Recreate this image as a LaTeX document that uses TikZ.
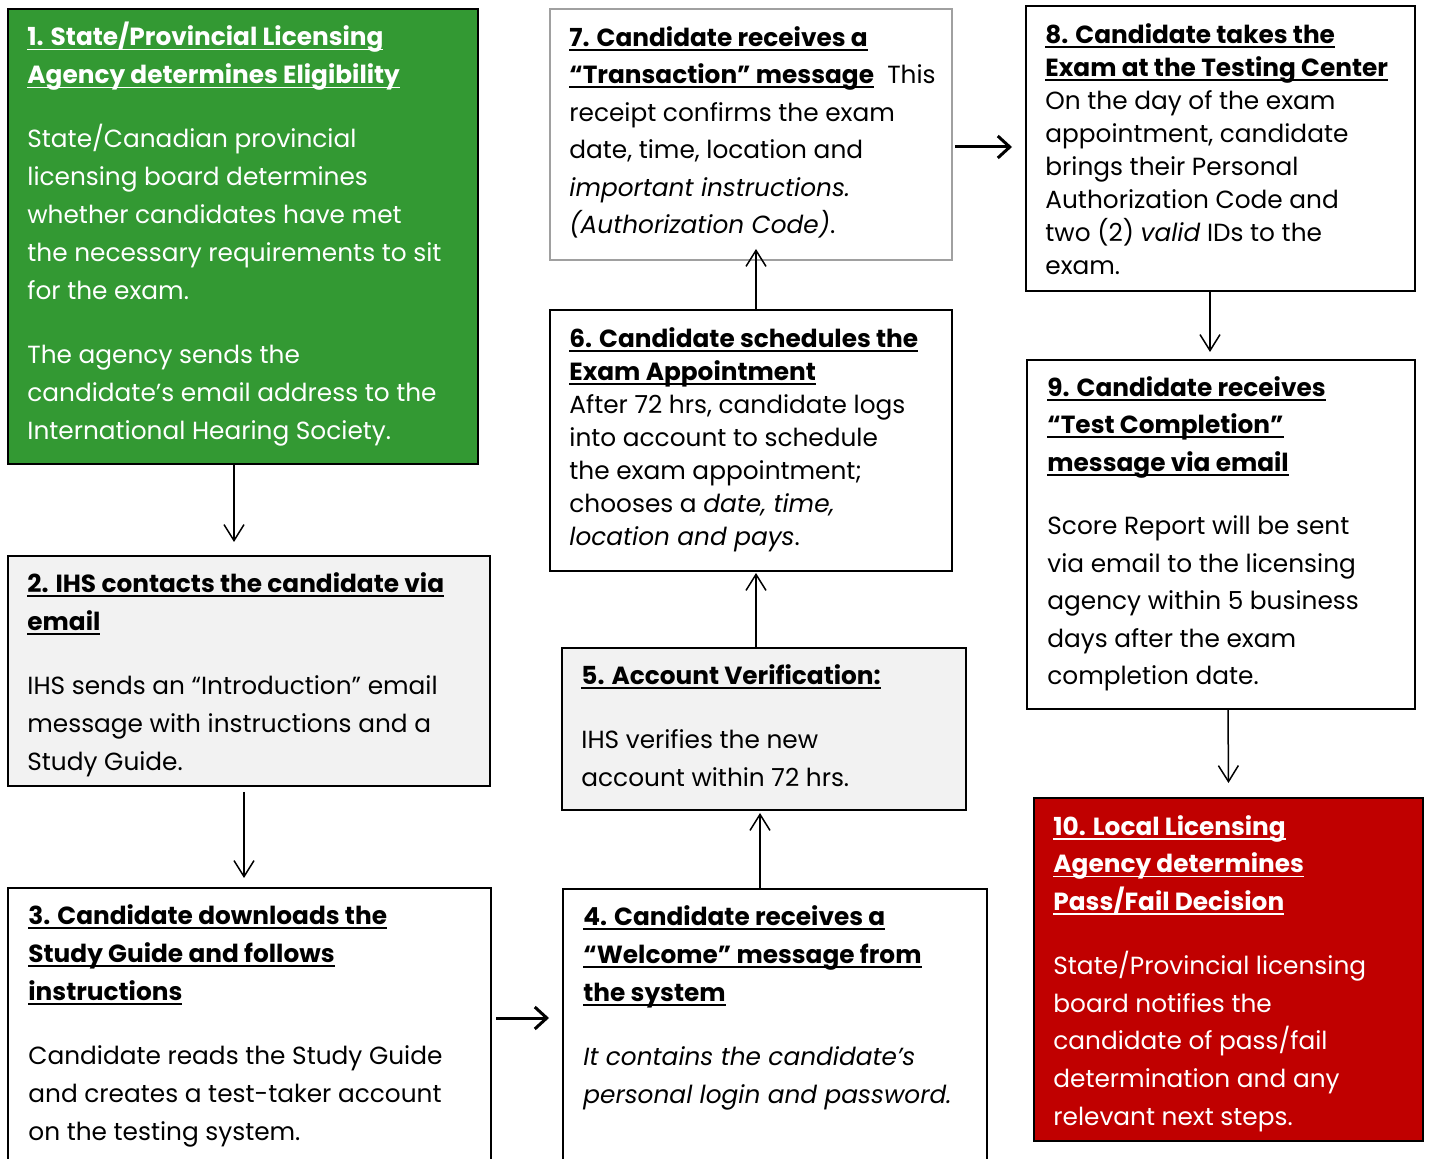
\documentclass[tikz,border=0pt]{standalone}
\usepackage{fontspec}
\setmainfont{Poppins}
\usetikzlibrary{arrows.meta}
\definecolor{stepgreen}{RGB}{51,153,51}
\definecolor{stepred}{RGB}{192,0,0}
\definecolor{stepgray}{RGB}{242,242,242}
\definecolor{stepedge}{RGB}{160,160,160}
\newsavebox{\titlebox}
\newcommand{\steptitle}[1]{\sbox{\titlebox}{\bfseries #1}\rlap{\rule[-2.2pt]{\wd\titlebox}{0.9pt}}\usebox{\titlebox}}

\begin{document}
\begin{tikzpicture}[x=0.5pt, y=-0.5pt,
  stepbox/.style={draw, line width=1pt, anchor=north west, inner sep=0pt},
  steptext/.style={anchor=north west, inner sep=0pt, align=left,
                   font=\fontsize{12.4}{19}\selectfont},
  tight/.style={font=\fontsize{12.4}{16.5}\selectfont},
  flow/.style={-{Straight Barb[length=8pt,width=10pt]}, line width=0.75pt},
  bigflow/.style={-{Straight Barb[length=6pt,width=11pt]}, line width=1.5pt}]

  \useasboundingbox (0,0) rectangle (1430,1159);

  % left column
  \node[stepbox, fill=stepgreen, minimum width=235pt, minimum height=227.5pt] (s1) at (7,8) {};
  \node[stepbox, fill=stepgray, minimum width=241pt, minimum height=115pt] (s2) at (7,555) {};
  \node[stepbox, minimum width=241.5pt, minimum height=145pt] (s3) at (7,887) {};

  % middle column
  \node[stepbox, minimum width=212pt, minimum height=145pt] (s4) at (562,888) {};
  \node[stepbox, fill=stepgray, minimum width=202pt, minimum height=81pt] (s5) at (561,647) {};
  \node[stepbox, minimum width=201pt, minimum height=130.5pt] (s6) at (549,309) {};
  \node[stepbox, draw=stepedge, minimum width=201pt, minimum height=125.5pt] (s7) at (549,8) {};

  % right column
  \node[stepbox, minimum width=194.5pt, minimum height=142.5pt] (s8) at (1025,5) {};
  \node[stepbox, minimum width=194pt, minimum height=174.5pt] (s9) at (1026,359) {};
  \node[stepbox, fill=stepred, minimum width=194.5pt, minimum height=171.5pt] (s10) at (1033,797) {};

  % texts
  \node[steptext, white] at ([shift={(20,14)}]s1.north west) {%
    \steptitle{1. State/Provincial Licensing}\\
    \steptitle{Agency determines Eligibility}\\[13pt]
    State/Canadian provincial\\
    licensing board determines\\
    whether candidates have met\\
    the necessary requirements to sit\\
    for the exam.\\[13pt]
    The agency sends the\\
    candidate’s email address to the\\
    International Hearing Society.};
  \node[steptext] at ([shift={(20,17)}]s2.north west) {%
    \steptitle{2. IHS contacts the candidate via}\\
    \steptitle{email}\\[13pt]
    IHS sends an “Introduction” email\\
    message with instructions and a\\
    Study Guide.};
  \node[steptext] at ([shift={(21,17)}]s3.north west) {%
    \steptitle{3. Candidate downloads the}\\
    \steptitle{Study Guide and follows}\\
    \steptitle{instructions}\\[13pt]
    Candidate reads the Study Guide\\
    and creates a test-taker account\\
    on the testing system.};
  \node[steptext] at ([shift={(21,17)}]s4.north west) {%
    \steptitle{4. Candidate receives a}\\
    \steptitle{“Welcome” message from}\\
    \steptitle{the system}\\[13pt]
    \textit{It contains the candidate’s}\\
    \textit{personal login and password.}};
  \node[steptext] at ([shift={(20,17)}]s5.north west) {%
    \steptitle{5. Account Verification:}\\[13pt]
    IHS verifies the new\\
    account within 72 hrs.};
  \node[steptext, tight] at ([shift={(20,18)}]s6.north west) {%
    \steptitle{6. Candidate schedules the}\\
    \steptitle{Exam Appointment}\\
    After 72 hrs, candidate logs\\
    into account to schedule\\
    the exam appointment;\\
    chooses a \textit{date, time,}\\
    \textit{location and pays}.};
  \node[steptext, font=\fontsize{12.4}{18.75}\selectfont] at ([shift={(20,18)}]s7.north west) {%
    \steptitle{7. Candidate receives a}\\
    \steptitle{“Transaction” message}\ \ This\\
    receipt confirms the exam\\
    date, time, location and\\
    \textit{important instructions.}\\
    \textit{(Authorization Code)}.};
  \node[steptext, tight] at ([shift={(20,18)}]s8.north west) {%
    \steptitle{8. Candidate takes the}\\
    \steptitle{Exam at the Testing Center}\\
    On the day of the exam\\
    appointment, candidate\\
    brings their Personal\\
    Authorization Code and\\
    two (2) \textit{valid} IDs to the\\
    exam.};
  \node[steptext, font=\fontsize{12.4}{18.75}\selectfont] at ([shift={(21,17)}]s9.north west) {%
    \steptitle{9. Candidate receives}\\
    \steptitle{“Test Completion”}\\
    \steptitle{message via email}\\[13pt]
    Score Report will be sent\\
    via email to the licensing\\
    agency within 5 business\\
    days after the exam\\
    completion date.};
  \node[steptext, white, font=\fontsize{12.4}{18.85}\selectfont] at ([shift={(20,18)}]s10.north west) {%
    \steptitle{10. Local Licensing}\\
    \steptitle{Agency determines}\\
    \steptitle{Pass/Fail Decision}\\[13pt]
    State/Provincial licensing\\
    board notifies the\\
    candidate of pass/fail\\
    determination and any\\
    relevant next steps.};

  % connectors
  \draw[flow] ([shift={(-9,0)}]s1.south) -- ([shift={(-15,-13)}]s2.north);
  \draw[flow] ([shift={(-5,5)}]s2.south) -- ([shift={(-5.5,-9)}]s3.north);
  \draw[bigflow] ([shift={(4,-15)}]s3.east) -- ([shift={(-13,-16)}]s4.west);
  \draw[flow] ([shift={(-15,0)}]s4.north) -- ([shift={(-4,2)}]s5.south);
  \draw[flow] ([shift={(-8,0)}]s5.north) -- ([shift={(5,1)}]s6.south);
  \draw[flow] ([shift={(5,0)}]s6.north) -- ([shift={(5,-12)}]s7.south);
  \draw[bigflow] ([shift={(2,12.5)}]s7.east) -- ([shift={(-13,-1.5)}]s8.west);
  \draw[flow] ([shift={(-10.5,0)}]s8.south) -- ([shift={(-11,-7)}]s9.north);
  \draw[flow] ([shift={(7,0)}]s9.south) -- ([shift={(0,-14)}]s10.north);
\end{tikzpicture}
\end{document}
